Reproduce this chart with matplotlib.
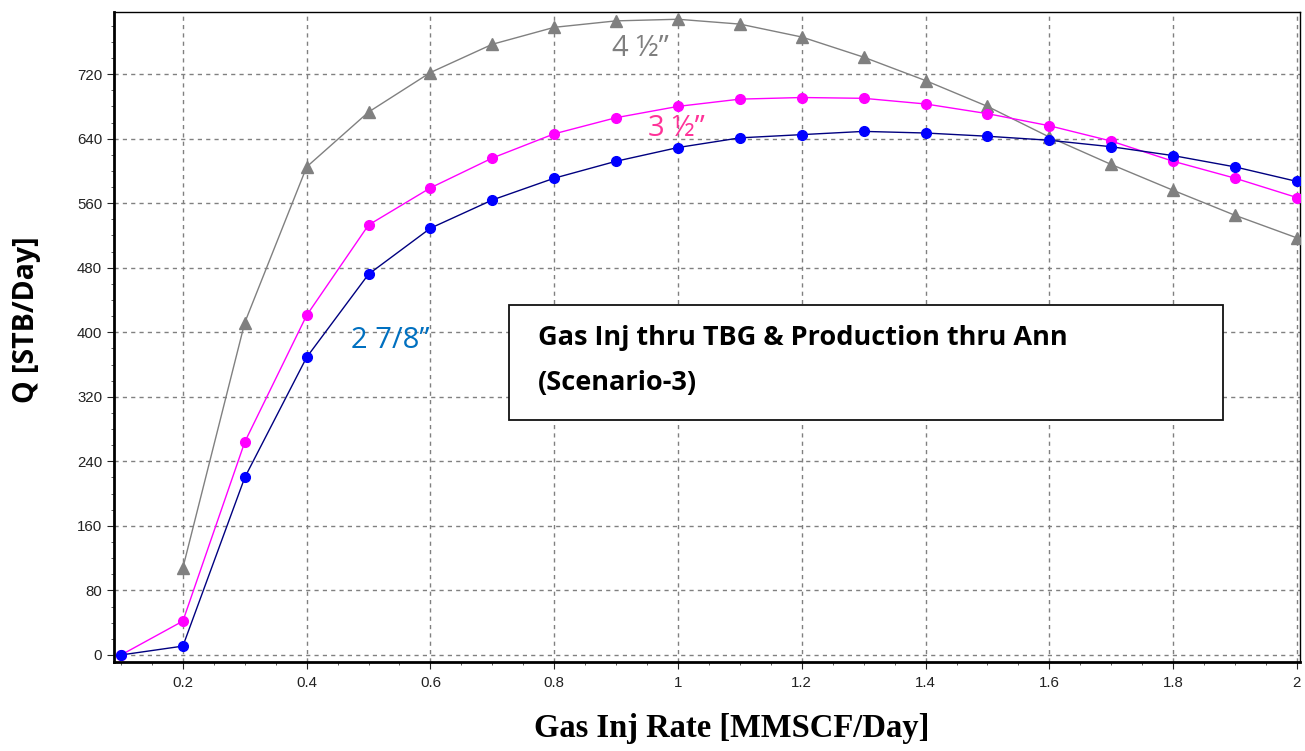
import matplotlib
matplotlib.use("Agg")
import matplotlib.pyplot as plt
from matplotlib.ticker import MultipleLocator, FormatStrFormatter
from matplotlib.patches import Rectangle

# gas injection rate, MMSCF/Day
x_all = [0.1, 0.2, 0.3, 0.4, 0.5, 0.6, 0.7, 0.8, 0.9, 1.0,
         1.1, 1.2, 1.3, 1.4, 1.5, 1.6, 1.7, 1.8, 1.9, 2.0]
x_45 = x_all[1:]

# production Q [STB/Day] per tubing size
q_278 = [0, 11, 220, 369, 472, 529, 564, 591, 612, 629,
         641, 645, 649, 647, 643, 638, 630, 619, 605, 587]
q_35 = [0, 42, 264, 421, 533, 579, 616, 646, 666, 680,
        689, 691, 690, 683, 671, 656, 637, 612, 591, 567]
q_45 = [108, 412, 605, 673, 722, 757, 778, 786, 788,
        782, 766, 741, 712, 680, 642, 608, 576, 545, 517]

yticks = list(range(0, 721, 80))
xticks = [0.2, 0.4, 0.6, 0.8, 1.0, 1.2, 1.4, 1.6, 1.8, 2.0]

fig = plt.figure(figsize=(13.05, 7.51), dpi=100)
ax = fig.add_axes([114/1305, 1-662/751, (1300-114)/1305, (662-12)/751])

ax.plot(x_45, q_45, color='#808080', lw=1, marker='^', ms=8.5,
        mfc='#808080', mec='#808080', zorder=3)
ax.plot(x_all, q_35, color='#ff00ff', lw=1, marker='o', ms=7,
        mfc='#ff00ff', mec='#ff00ff', zorder=4)
ax.plot(x_all, q_278, color='#000080', lw=1, marker='o', ms=7,
        mfc='#0000ff', mec='#0000ff', zorder=5)

ax.set_xlim(0.0887, 2.005)
ax.set_ylim(-8.7, 797)
ax.set_xticks(xticks)
ax.set_yticks(yticks)
ax.xaxis.set_minor_locator(MultipleLocator(0.05))
ax.yaxis.set_minor_locator(MultipleLocator(20))
ax.xaxis.set_major_formatter(FormatStrFormatter('%g'))
ax.tick_params(which='major', length=5, width=0.8, labelsize=10.8, colors='#222222')
ax.tick_params(which='minor', length=2.5, width=0.6, colors='#444444')
ax.tick_params(axis='x', pad=5)
for lbl in ax.get_xticklabels() + ax.get_yticklabels():
    lbl.set_fontfamily('Liberation Sans')

ax.grid(True, which='major', linestyle=(0, (3, 3)), color='#808080', lw=1)
ax.set_axisbelow(True)
for side in ['left', 'bottom']:
    ax.spines[side].set_linewidth(2)
for side in ['top', 'right']:
    ax.spines[side].set_linewidth(1)

# curve labels
ax.text(0.940, 752, '4 ½”', color='#7f7f7f', fontsize=21, family='Open Sans',
        ha='center', va='center')
ax.text(0.997, 653, '3 ½”', color='#ff3399', fontsize=21, family='Open Sans',
        ha='center', va='center')
ax.text(0.535, 390, '2 7/8”', color='#0070c0', fontsize=21, family='Open Sans',
        ha='center', va='center')

# scenario box
ax.add_patch(Rectangle((0.727, 291), 1.153, 143, fill=True, facecolor='white',
                       edgecolor='#111111', lw=1.3, zorder=6))
ax.text(0.774, 393, 'Gas Inj thru TBG & Production thru Ann', fontsize=19.5,
        family='Open Sans', weight='bold', va='center', ha='left', zorder=7)
ax.text(0.774, 337, '(Scenario-3)', fontsize=19.5, family='Open Sans',
        weight='bold', va='center', ha='left', zorder=7)

fig.text(27/1305, 1-320/751, 'Q [STB/Day]', rotation=90, fontsize=20.5,
         family='Open Sans', weight='bold', ha='center', va='center')
fig.text(732/1305, 1-728/751, 'Gas Inj Rate [MMSCF/Day]', fontsize=23.5,
         family='Liberation Serif', weight='bold', ha='center', va='center')

fig.savefig('out.png', dpi=100)
